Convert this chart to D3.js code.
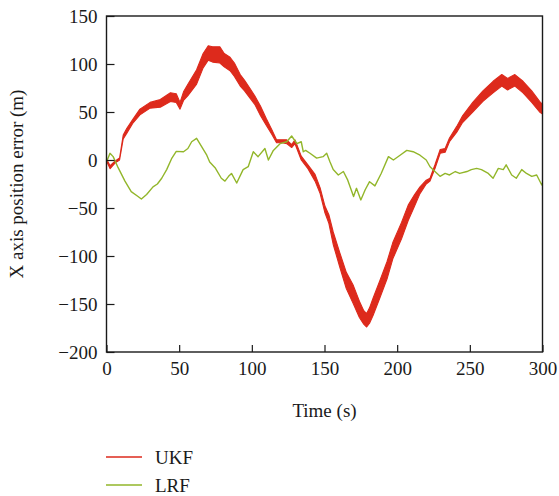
<!DOCTYPE html>
<html>
<head>
<meta charset="utf-8">
<script src="https://cdn.jsdelivr.net/npm/d3@7"></script>
<style>
  body { margin: 0; background: #fff; }
  svg text { font-family: "Liberation Serif", "DejaVu Serif", serif; fill: #1a1a1a; }
  .tick line { stroke: #1a1a1a; stroke-width: 1.2; }
</style>
</head>
<body>
<svg width="559" height="496"></svg>
<script>
// UKF: noisy band, lower and upper edge
let ukfTime = [0, 2.5, 6, 9, 11.5, 14, 18, 23, 30, 37, 44, 48, 50.6, 53, 56, 62, 66.5, 70, 73, 78,
  81, 85, 88, 92, 95, 99, 102, 106, 110, 113.6, 117, 121, 124, 127.4, 129.7, 134, 138.6, 143.5, 147, 150.3,
  153, 156, 160.6, 165, 169.6, 174, 177, 179, 181, 183.4, 188, 193, 197, 203, 207.6, 212, 215.7, 220, 222.6, 226,
  229.6, 233, 236, 241, 245, 252, 259, 266, 272, 276, 281, 286.6, 292.6, 298, 300];
let ukfLow = [-1, -9, -3, 0, 22, 28, 38, 47, 54, 55, 61, 60, 53, 62, 67, 79, 96, 104, 102, 101,
  97, 93, 87, 77, 72, 64, 58, 46, 36, 27, 18, 18, 17, 13, 17, 0, -9, -22, -35, -55,
  -66, -88, -112, -134, -149, -164, -171, -174, -170, -162, -144, -124, -103, -82, -63, -48, -35, -25, -22, -9,
  7, 8, 19, 29, 39, 50, 61, 70, 77, 73, 77, 70, 60, 50, 48];
let ukfHigh = [1, -6, -1, 2, 26, 33, 42, 53, 60, 63, 70, 69, 60, 71, 79, 94, 111, 119, 118, 118,
  111, 107, 101, 89, 83, 74, 67, 56, 43, 32, 21, 21, 21, 16, 21, 4, -5, -15, -29, -48,
  -57, -75, -97, -117, -130, -147, -157, -160, -154, -144, -126, -106, -86, -65, -47, -36, -28, -21, -19, -5,
  11, 12, 23, 35, 46, 60, 72, 82, 89, 85, 89, 82, 72, 61, 58];

// LRF
let lrfTime = [0, 2.4, 4.6, 8, 12.7, 17, 21.7, 24, 27.6, 32, 35, 38, 41.4, 45, 48, 53, 56, 58.6, 62, 64, 69,
  71, 74.7, 79, 81.5, 84, 86, 89.6, 94, 97.5, 101, 104.3, 109, 111.4, 114.8, 119.4, 124, 127.4, 131, 134, 135.4,
  137, 140, 144.6, 149, 151.5, 153.8, 156, 159.5, 163, 166, 170, 172, 175, 178, 181, 184.7, 189, 194, 197.4, 202,
  206.6, 211, 215.7, 220, 222.6, 226, 229.5, 233, 236, 240, 243, 248, 251, 254.7, 258, 262.7, 266, 269.6, 273, 275,
  278.8, 282, 285.7, 289, 292.6, 296, 299.5, 300];
let lrfVal = [-2, 7, 3.5, -8, -22, -33, -38, -40.6, -36, -28, -25, -19, -10, 2, 9, 8.6, 12, 19, 22.6, 17.7, 5,
  -2, -8, -19, -22, -17, -14, -24, -10, -7, 8.6, 3.5, 12, 0, 10, 17, 19, 25, 17, 19, 8.6,
  10, 7, 2, 3.5, 7, -2, -10, -15.6, -12, -21, -38, -29.5, -41.6, -31, -22.6, -27, -14, 3.5, 0, 5,
  10, 8.6, 5, 0, -7, -12, -17, -14, -15.6, -12, -14, -12, -10, -8.7, -10, -14, -19, -8.7, -10, -5,
  -15.6, -19, -10, -14, -17, -15.6, -26, -24];

let xTicks = [0, 50, 100, 150, 200, 250, 300];
let yTicks = [-200, -150, -100, -50, 0, 50, 100, 150];
let seriesNames = ["UKF", "LRF"];
let seriesColors = ["#dd2a1c", "#92b62a"];

let marginLeft = 106.5, marginTop = 16, plotW = 436, plotH = 336;

let svg = d3.select("svg");
let g = svg.append("g").attr("transform", "translate(" + marginLeft + "," + marginTop + ")");

let xScale = d3.scaleLinear().domain([0, 300]).range([0, plotW]);
let yScale = d3.scaleLinear().domain([-200, 150]).range([plotH, 0]);

// UKF band
let ukfRows = ukfTime.map((t, i) => ({t: t, lo: ukfLow[i], hi: ukfHigh[i]}));
let band = d3.area()
    .x(d => xScale(d.t))
    .y0(d => yScale(d.lo))
    .y1(d => yScale(d.hi));
g.append("path")
    .attr("d", band(ukfRows))
    .attr("fill", seriesColors[0])
    .attr("stroke", seriesColors[0])
    .attr("stroke-width", 1.1)
    .attr("stroke-linejoin", "round");

// LRF line
let lrfRows = lrfTime.map((t, i) => ({t: t, v: lrfVal[i]}));
let line = d3.line().x(d => xScale(d.t)).y(d => yScale(d.v));
g.append("path")
    .attr("d", line(lrfRows))
    .attr("fill", "none")
    .attr("stroke", seriesColors[1])
    .attr("stroke-width", 1.4)
    .attr("stroke-linejoin", "round");

// frame
g.append("rect")
    .attr("width", plotW).attr("height", plotH)
    .attr("fill", "none").attr("stroke", "#1a1a1a").attr("stroke-width", 1.4);

let xAxis = d3.axisBottom(xScale).tickValues(xTicks).tickSizeInner(-7).tickSizeOuter(0).tickPadding(10);
let yAxis = d3.axisLeft(yScale).tickValues(yTicks).tickSizeInner(-8).tickSizeOuter(0).tickPadding(9);

let gx = g.append("g").attr("transform", "translate(0," + plotH + ")").call(xAxis);
let gy = g.append("g").call(yAxis);
gx.select(".domain").remove();
gy.select(".domain").remove();
svg.selectAll(".tick text").attr("font-size", 19).attr("font-family", "Liberation Serif");

// axis titles
svg.append("text")
    .attr("x", marginLeft + plotW / 2).attr("y", 417)
    .attr("text-anchor", "middle").attr("font-size", 19)
    .text("Time (s)");
svg.append("text")
    .attr("transform", "translate(23," + (marginTop + plotH / 2) + ") rotate(-90)")
    .attr("text-anchor", "middle").attr("font-size", 19)
    .text("X axis position error (m)");

// legend
let legend = svg.append("g");
seriesNames.forEach((name, i) => {
    let y = 457 + i * 28;
    legend.append("line")
        .attr("x1", 106).attr("x2", 142).attr("y1", y).attr("y2", y)
        .attr("stroke", seriesColors[i]).attr("stroke-width", 1.5);
    legend.append("text")
        .attr("x", 155).attr("y", y + 7)
        .attr("font-size", 19)
        .text(name);
});
</script>
</body>
</html>
